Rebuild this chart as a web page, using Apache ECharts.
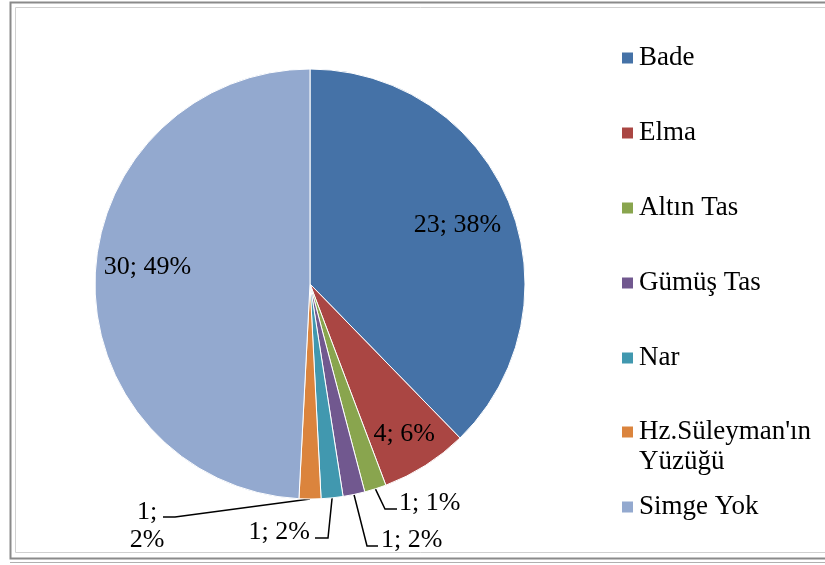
<!DOCTYPE html>
<html>
<head>
<meta charset="utf-8">
<script src="https://cdn.jsdelivr.net/npm/echarts@6/dist/echarts.min.js"></script>
<style>
  html, body { margin: 0; padding: 0; background: #fff; }
  #main { width: 825px; height: 565px; }
</style>
</head>
<body>
<div id="main"></div>
<script>
  const categories = ['Bade', 'Elma', 'Altın Tas', 'Gümüş Tas', 'Nar', "Hz.Süleyman'ın Yüzüğü", 'Simge Yok'];
  const counts = [23, 4, 1, 1, 1, 1, 30];
  const percentLabels = [38, 6, 1, 2, 2, 2, 49];
  const colors = ['#4572A7', '#AA4643', '#89A54E', '#71588F', '#4198AF', '#DB843D', '#93A9CF'];

  // where each label sits: big slices keep the label inside (with a nudge),
  // the thin ones go outside with an elbow leader line
  const labelPlace = [
    { inside: true, dx: 45, dy: -17 },
    { inside: true, dx: 35, dy: 57 },
    { x: 399, y: 503, align: 'left', elbow: [[385, 509], [397, 509]] },
    { x: 381, y: 540, align: 'left', elbow: [[367, 546], [378, 546]] },
    { x: 310, y: 532, align: 'right', elbow: [[328, 538], [315, 538]] },
    { x: 147, y: 526, align: 'center', elbow: [[175, 517], [163, 517]], wrap: true },
    { inside: true, dx: -52, dy: -14 }
  ];

  const font = "'Liberation Serif', 'Times New Roman', serif";

  let pieData = categories.map(function (name, i) {
    let p = labelPlace[i];
    return {
      name: name,
      value: counts[i],
      itemStyle: { color: colors[i] },
      label: { position: p.inside ? 'inside' : 'outside' },
      labelLine: { show: !p.inside }
    };
  });

  let myChart = echarts.init(document.getElementById('main'));

  let legendText = { color: '#000', fontFamily: font, fontSize: 27, lineHeight: 30 };

  let option = {
    animation: false,
    graphic: [
      { type: 'rect', shape: { x: 10.5, y: 2.5, width: 830, height: 556 }, style: { fill: 'none', stroke: '#8a8a8a', lineWidth: 2 } },
      { type: 'rect', shape: { x: 15.5, y: 7.5, width: 830, height: 545 }, style: { fill: 'none', stroke: '#d0d0d0', lineWidth: 1 } },
      { type: 'line', shape: { x1: 10, y1: 562.5, x2: 830, y2: 562.5 }, style: { stroke: '#b0b0b0', lineWidth: 1 } }
    ],
    legend: [
      {
        orient: 'vertical', left: 620, top: 43, padding: 0, itemGap: 45,
        itemWidth: 13, itemHeight: 13, icon: 'rect', selectedMode: false,
        data: categories.slice(0, 5), textStyle: legendText
      },
      {
        orient: 'vertical', left: 620, top: 387, padding: 0,
        itemWidth: 13, itemHeight: 13, icon: 'rect', selectedMode: false,
        data: [categories[5]], textStyle: legendText,
        formatter: function (name) { return '\n' + name.replace(' ', '\n'); }
      },
      {
        orient: 'vertical', left: 620, top: 492, padding: 0,
        itemWidth: 13, itemHeight: 13, icon: 'rect', selectedMode: false,
        data: [categories[6]], textStyle: legendText
      }
    ],
    series: [{
      type: 'pie',
      center: [310, 284],
      radius: 215,
      startAngle: 90,
      clockwise: true,
      avoidLabelOverlap: false,
      itemStyle: { borderColor: '#fff', borderWidth: 1 },
      label: {
        color: '#000',
        fontFamily: font,
        fontSize: 26,
        lineHeight: 28,
        formatter: function (p) {
          let sep = labelPlace[p.dataIndex].wrap ? ';\n' : '; ';
          return p.value + sep + percentLabels[p.dataIndex] + '%';
        }
      },
      labelLine: { lineStyle: { color: '#000', width: 1.5 } },
      labelLayout: function (params) {
        let p = labelPlace[params.dataIndex];
        if (p.inside) {
          return { dx: p.dx, dy: p.dy };
        }
        let pts = params.labelLinePoints;
        return {
          x: p.x, y: p.y, align: p.align, verticalAlign: 'middle',
          labelLinePoints: [pts[0], p.elbow[0], p.elbow[1]]
        };
      },
      data: pieData
    }]
  };

  myChart.setOption(option);
</script>
</body>
</html>
